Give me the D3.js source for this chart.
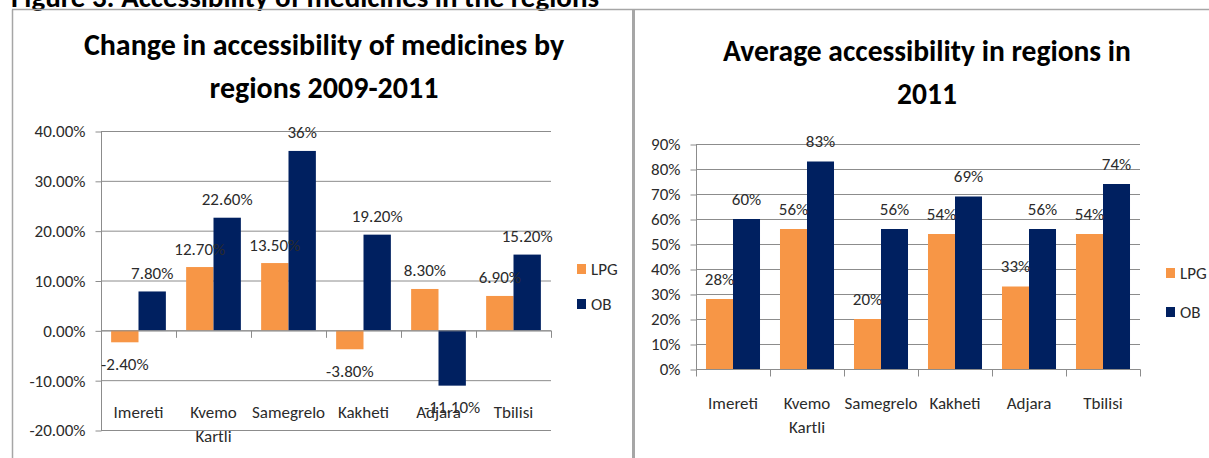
<!DOCTYPE html>
<html><head><meta charset="utf-8">
<script src="https://cdn.jsdelivr.net/npm/d3@7"></script>
<style>
html,body{margin:0;padding:0;background:#fff;}
svg text{font-family:Carlito,"Liberation Sans Narrow","Arial Narrow","Liberation Sans",sans-serif;}
</style></head>
<body>
<svg id="c" width="1209" height="458"></svg>
<script>
const categories = ["Imereti", "Kvemo Kartli", "Samegrelo", "Kakheti", "Adjara", "Tbilisi"];
const seriesNames = ["LPG", "OB"];
const changeLPG = [-0.024, 0.127, 0.135, -0.038, 0.083, 0.069];
const changeOB = [0.078, 0.226, 0.36, 0.192, -0.111, 0.152];
const changeLPGLabels = ["-2.40%", "12.70%", "13.50%", "-3.80%", "8.30%", "6.90%"];
const changeOBLabels = ["7.80%", "22.60%", "36%", "19.20%", "-11.10%", "15.20%"];
const avgLPG = [0.28, 0.56, 0.20, 0.54, 0.33, 0.54];
const avgOB = [0.60, 0.83, 0.56, 0.69, 0.56, 0.74];
const avgLPGLabels = ["28%", "56%", "20%", "54%", "33%", "54%"];
const avgOBLabels = ["60%", "83%", "56%", "69%", "56%", "74%"];
const changeTicks = [-0.2, -0.1, 0, 0.1, 0.2, 0.3, 0.4];
const avgTicks = [0, 0.1, 0.2, 0.3, 0.4, 0.5, 0.6, 0.7, 0.8, 0.9];
const figureTitle = "Figure 3: Accessibility of medicines in the regions";
const leftTitle = ["Change in accessibility of medicines by", "regions 2009-2011"];
const rightTitle = ["Average accessibility in regions in", "2011"];

const colors = {LPG: "#F79646", OB: "#002060"};
const svg = d3.select("#c");
const txt = "#2b2b2b";
const gridC = "#8c8c8c";
const borderC = "#a6a6a6";
const FS = 17;
const hy = f => s => f(s).replace("\u2212", "-");

// figure caption (cut off at top)
svg.append("text").attr("x", 11).attr("y", 7)
  .attr("font-size", 29).attr("font-weight", "bold").attr("fill", "#000")
  .text(figureTitle);

// panel borders
svg.append("line").attr("x1", 12).attr("x2", 1209).attr("y1", 9.5).attr("y2", 9.5)
  .attr("stroke", borderC).attr("stroke-width", 1.5);
svg.append("line").attr("x1", 12.5).attr("x2", 12.5).attr("y1", 9.5).attr("y2", 458)
  .attr("stroke", borderC).attr("stroke-width", 1.5);
svg.append("line").attr("x1", 633.5).attr("x2", 633.5).attr("y1", 9.5).attr("y2", 458)
  .attr("stroke", borderC).attr("stroke-width", 3);

function chart(o) {
  const g = svg.append("g");
  o.title.forEach((t, i) => {
    g.append("text").attr("x", o.titleX).attr("y", o.titleY + i * o.titleLH)
      .attr("text-anchor", "middle").attr("font-size", o.titleSize)
      .attr("font-weight", "bold").attr("fill", "#000").text(t);
  });
  const x = d3.scaleBand().domain(categories).range([o.x0, o.x1]);
  const y = d3.scaleLinear().domain(o.domain).range([o.yBottom, o.yTop]);
  g.selectAll(".grid").data(o.ticks).join("line")
    .attr("x1", o.x0).attr("x2", o.x1)
    .attr("y1", d => y(d) + 0.5).attr("y2", d => y(d) + 0.5)
    .attr("stroke", gridC).attr("stroke-width", 1);
  const ya = g.append("g").attr("transform", `translate(${o.x0 + 0.5},0.5)`)
    .call(d3.axisLeft(y).tickValues(o.ticks).tickFormat(hy(o.fmt)).tickSize(6).tickPadding(10));
  ya.select(".domain").attr("stroke", gridC).attr("d", `M0,${y(o.domain[1])}V${y(o.domain[0])}`);
  ya.selectAll(".tick line").attr("stroke", gridC);
  ya.selectAll(".tick text").attr("font-size", FS).attr("fill", txt)
    .style("font-family", 'Carlito,"Liberation Sans Narrow","Arial Narrow",sans-serif');
  const inner = d3.scaleBand().domain(seriesNames).range([0, x.bandwidth()]).paddingOuter(0.37).paddingInner(0);
  const data = [];
  categories.forEach((c, i) => {
    data.push({c, s: "LPG", v: o.lpg[i], l: o.lpgL[i]});
    data.push({c, s: "OB", v: o.ob[i], l: o.obL[i]});
  });
  g.selectAll(".bar").data(data).join("rect")
    .attr("x", d => x(d.c) + inner(d.s))
    .attr("width", inner.bandwidth())
    .attr("y", d => Math.min(y(d.v), y(0)))
    .attr("height", d => Math.abs(y(d.v) - y(0)))
    .attr("fill", d => colors[d.s]);
  const xa = g.append("g").attr("transform", `translate(0.5,${y(0) + 0.5})`)
    .call(d3.axisBottom(x).tickSize(0).tickFormat(""));
  xa.select(".domain").attr("stroke", gridC).attr("d", `M${o.x0},0H${o.x1}`);
  const bounds = d3.range(categories.length + 1).map(i => o.x0 + i * x.step());
  xa.selectAll(".bt").data(bounds).join("line")
    .attr("x1", d => d).attr("x2", d => d).attr("y1", 0).attr("y2", 7)
    .attr("stroke", gridC);
  categories.forEach(c => {
    c.split(" ").forEach((w, j) => {
      g.append("text").attr("x", x(c) + x.bandwidth() / 2).attr("y", o.catY + j * 24)
        .attr("text-anchor", "middle").attr("dominant-baseline", "central")
        .attr("font-size", FS).attr("fill", txt).text(w);
    });
  });
  g.selectAll(".dl").data(data).join("text")
    .attr("x", d => x(d.c) + inner(d.s) + inner.bandwidth() / 2)
    .attr("y", d => d.v >= 0 ? y(d.v) - o.labUp : y(d.v) + 22)
    .attr("text-anchor", "middle").attr("dominant-baseline", "central")
    .attr("font-size", FS).attr("fill", txt).text(d => d.l);
  seriesNames.forEach((s, i) => {
    g.append("rect").attr("x", o.legX).attr("y", o.legY + i * o.legGap - 5)
      .attr("width", 9).attr("height", 10).attr("fill", colors[s]);
    g.append("text").attr("x", o.legX + 14).attr("y", o.legY + i * o.legGap)
      .attr("dominant-baseline", "central").attr("font-size", FS).attr("fill", txt).text(s);
  });
}

chart({
  title: leftTitle, titleX: 324, titleY: 55, titleLH: 43, titleSize: 30,
  x0: 101, x1: 551, yTop: 131, yBottom: 430, domain: [-0.2, 0.4],
  ticks: changeTicks, fmt: d3.format(".2%"),
  lpg: changeLPG, ob: changeOB, lpgL: changeLPGLabels, obL: changeOBLabels,
  catY: 412, labUp: 18, legX: 577, legY: 269, legGap: 35
});
chart({
  title: rightTitle, titleX: 927, titleY: 61, titleLH: 43, titleSize: 29.5,
  x0: 696, x1: 1140, yTop: 144, yBottom: 369, domain: [0, 0.9],
  ticks: avgTicks, fmt: d3.format(".0%"),
  lpg: avgLPG, ob: avgOB, lpgL: avgLPGLabels, obL: avgOBLabels,
  catY: 403, labUp: 20, legX: 1166, legY: 273, legGap: 39
});
</script>
</body></html>
